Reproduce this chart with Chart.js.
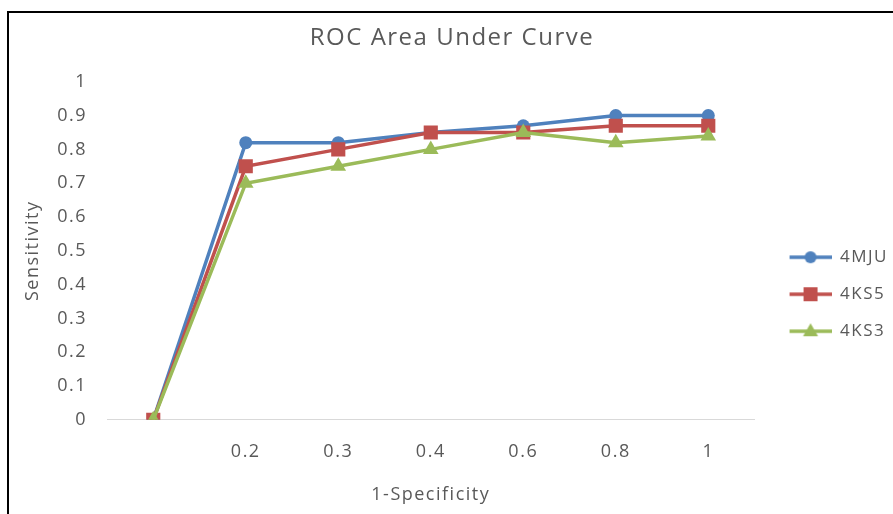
<!DOCTYPE html>
<html>
<head>
<meta charset="utf-8">
<script src="https://cdn.jsdelivr.net/npm/chart.js@4"></script>
<style>
  html, body { margin: 0; padding: 0; background: #fff; overflow: hidden; }
  #wrap { position: relative; width: 893px; height: 514px; }
  #frame { position: absolute; left: 7px; top: 11px; width: 1000px; height: 1000px;
           border-left: 2px solid #000; border-top: 2px solid #000; pointer-events: none; }
</style>
</head>
<body>
<div id="wrap">
  <canvas id="roc" width="893" height="514"></canvas>
  <div id="frame"></div>
</div>
<script>
const categories = ['', '0.2', '0.3', '0.4', '0.6', '0.8', '1'];
const mju = [0, 0.82, 0.82, 0.85, 0.87, 0.90, 0.90];
const ks5 = [0, 0.75, 0.80, 0.85, 0.85, 0.87, 0.87];
const ks3 = [0, 0.70, 0.75, 0.80, 0.85, 0.82, 0.84];

const seriesNames = ['4MJU', '4KS5', '4KS3'];
const colors = ['#4f81bd', '#c0504d', '#9bbb59'];
const markers = ['circle', 'rect', 'triangle'];
const radii = [6.5, 10, 9];

const FONT = '"Open Sans", Lato, sans-serif';
const GREY = '#595959';
const LINE_W = 3.5;

// legend icon: blank gap on the left, then line + marker (42px)
const GAP = 15;
function legendIcon(i) {
  const c = document.createElement('canvas');
  c.width = 42 + GAP; c.height = 18;
  const g = c.getContext('2d');
  const cx = GAP + 21;
  g.strokeStyle = colors[i];
  g.fillStyle = colors[i];
  g.lineWidth = LINE_W;
  g.beginPath(); g.moveTo(GAP, 9); g.lineTo(GAP + 42, 9); g.stroke();
  g.beginPath();
  if (markers[i] === 'circle') g.arc(cx, 9, 6, 0, Math.PI * 2);
  else if (markers[i] === 'rect') g.rect(cx - 7, 2, 14, 14);
  else { g.moveTo(cx, 1); g.lineTo(cx + 7.5, 14); g.lineTo(cx - 7.5, 14); g.closePath(); }
  g.fill();
  return c;
}
const icons = [0, 1, 2].map(legendIcon);

function makeSet(i, data, order) {
  return {
    label: seriesNames[i],
    data: data,
    borderColor: colors[i],
    backgroundColor: colors[i],
    borderWidth: LINE_W,
    pointStyle: markers[i],
    pointRadius: radii[i],
    pointHoverRadius: radii[i],
    pointBorderWidth: 0,
    tension: 0,
    order: order
  };
}

// the original text is a little wider than Open Sans
const spacing = {
  id: 'spacing',
  beforeUpdate(c) { c.ctx.letterSpacing = '1.5px'; },
  beforeDraw(c) { c.ctx.letterSpacing = '1.5px'; }
};

const ctx = document.getElementById('roc').getContext('2d');
const chart = new Chart(ctx, {
  type: 'line',
  data: {
    labels: categories,
    datasets: [makeSet(0, mju, 2), makeSet(1, ks5, 1), makeSet(2, ks3, 0)]
  },
  plugins: [spacing],
  options: {
    responsive: false,
    animation: false,
    layout: { padding: { left: 6, right: -5, top: 0, bottom: 8 } },
    plugins: {
      title: {
        display: true,
        text: 'ROC Area Under Curve',
        color: GREY,
        font: { family: FONT, size: 24, weight: 'normal' },
        padding: { top: 24, bottom: 29 }
      },
      legend: {
        position: 'right',
        title: { display: true, text: ' ', font: { size: 12 }, padding: { top: 0, bottom: 68 } },
        labels: {
          color: GREY,
          font: { family: FONT, size: 17 },
          usePointStyle: true,
          pointStyleWidth: 42 + GAP,
          padding: 20,
          generateLabels: () => seriesNames.map((n, i) => ({
            text: n, pointStyle: icons[i], fillStyle: colors[i],
            strokeStyle: colors[i], lineWidth: 0, datasetIndex: i, fontColor: GREY
          }))
        }
      },
      tooltip: { enabled: false }
    },
    scales: {
      x: {
        offset: true,
        grid: { display: false, drawTicks: false },
        border: { display: true, color: '#d9d9d9', width: 1 },
        ticks: { color: GREY, font: { family: FONT, size: 18 }, padding: 21, maxRotation: 0 },
        title: {
          display: true, text: '1-Specificity', color: GREY,
          font: { family: FONT, size: 18 }, padding: { top: 1, bottom: 0 }
        }
      },
      y: {
        min: 0, max: 1,
        grid: { display: false, drawTicks: false },
        border: { display: false },
        afterFit: s => { s.width = 101; },
        ticks: {
          stepSize: 0.1, color: GREY, font: { family: FONT, size: 18 }, padding: 20,
          callback: v => String(Math.round(v * 10) / 10)
        },
        title: {
          display: true, text: 'Sensitivity', color: GREY,
          font: { family: FONT, size: 18 }, padding: { top: 16, bottom: 13 }
        }
      }
    }
  }
});
</script>
</body>
</html>
